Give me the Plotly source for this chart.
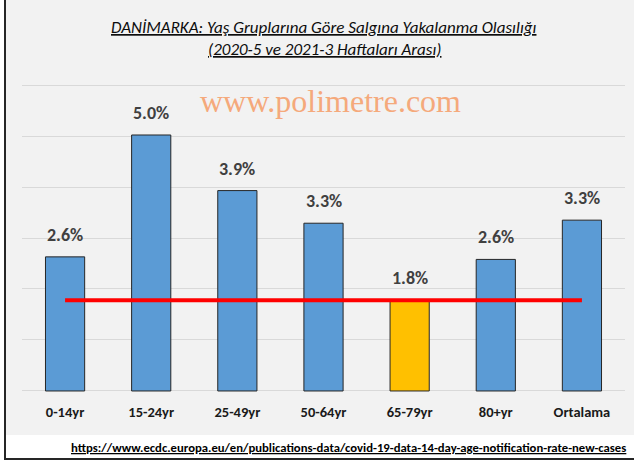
import plotly.graph_objects as go

categories = ["0-14yr", "15-24yr", "25-49yr", "50-64yr", "65-79yr", "80+yr", "Ortalama"]
values = [2.63, 5.02, 3.93, 3.29, 1.78, 2.58, 3.35]
value_labels = ["2.6%", "5.0%", "3.9%", "3.3%", "1.8%", "2.6%", "3.3%"]
ref_line = [1.78, 1.78, 1.78, 1.78, 1.78, 1.78, 1.78]
bar_colors = ["#5B9BD5", "#5B9BD5", "#5B9BD5", "#5B9BD5", "#FFC000", "#5B9BD5", "#5B9BD5"]

W, H = 634, 464
ML, MR, MT, MB = 22, 9, 84, 72
PW, PH = W - ML - MR, H - MT - MB

def px(x):
    return (x - ML) / PW

def py(y):
    return (H - MB - y) / PH

FONT = "Carlito, 'Liberation Sans Narrow', 'DejaVu Sans Condensed', 'Open Sans', sans-serif"

fig = go.Figure()
fig.add_trace(go.Bar(
    x=categories, y=values,
    marker=dict(color=bar_colors, line=dict(color="#262626", width=1)),
    width=0.455, hoverinfo="skip",
))
fig.add_trace(go.Scatter(
    x=categories, y=ref_line, mode="lines",
    line=dict(color="#FF0000", width=4), hoverinfo="skip",
))

annotations = []
for c, v, t in zip(categories, values, value_labels):
    annotations.append(dict(x=c, y=v, text="<b>" + t + "</b>", showarrow=False,
                            yanchor="bottom", yshift=9,
                            font=dict(family=FONT, size=18, color="#404040")))

annotations.append(dict(xref="paper", yref="paper", x=px(324), y=py(28),
                        text="<i><u>DANİMARKA: Yaş Gruplarına Göre Salgına Yakalanma Olasılığı</u></i>",
                        showarrow=False, xanchor="center", yanchor="middle",
                        font=dict(family=FONT, size=17, color="#0D0D0D")))
annotations.append(dict(xref="paper", yref="paper", x=px(324), y=py(50),
                        text="<i><u>(2020-5 ve 2021-3 Haftaları Arası)</u></i>",
                        showarrow=False, xanchor="center", yanchor="middle",
                        font=dict(family=FONT, size=17, color="#0D0D0D")))
annotations.append(dict(xref="paper", yref="paper", x=px(330), y=py(101),
                        text="www.polimetre.com",
                        showarrow=False, xanchor="center", yanchor="middle",
                        font=dict(family="'Liberation Serif', 'Times New Roman', serif", size=32, color="#F5A97B")))
annotations.append(dict(xref="paper", yref="paper", x=px(628), y=py(447),
                        text="<b><u>https://www.ecdc.europa.eu/en/publications-data/covid-19-data-14-day-age-notification-rate-new-cases</u></b>",
                        showarrow=False, xanchor="right", yanchor="middle",
                        font=dict(family=FONT, size=12.7, color="#000000")))

shapes = [
    dict(type="rect", xref="paper", yref="paper", x0=px(6), x1=px(640), y0=py(-5), y1=py(435),
         fillcolor="#F2F2F2", line=dict(width=0), layer="below"),
    dict(type="rect", xref="paper", yref="paper", x0=px(5), x1=px(642), y0=py(-5), y1=py(459),
         fillcolor="rgba(0,0,0,0)", line=dict(color="#262626", width=2), layer="above"),
]

fig.update_layout(
    width=W, height=H,
    margin=dict(l=ML, r=MR, t=MT, b=MB),
    paper_bgcolor="#FFFFFF", plot_bgcolor="rgba(0,0,0,0)",
    showlegend=False, bargap=0.545,
    annotations=annotations, shapes=shapes,
    xaxis=dict(showgrid=False, showline=False, zeroline=False, ticks="",
               tickfont=dict(family=FONT, size=14.5, color="#1A1A1A"),
               ticklabelstandoff=9, fixedrange=True),
    yaxis=dict(range=[-0.02, 6.02], dtick=1, showgrid=True, gridcolor="#D9D9D9", gridwidth=1,
               zeroline=True, zerolinecolor="#D9D9D9", zerolinewidth=1,
               showticklabels=False, fixedrange=True),
)
fig.update_xaxes(tickprefix="<b>", ticksuffix="</b>")

fig.write_html("out.html", config={"displayModeBar": False},
               post_script="document.body.style.margin='0px';document.body.style.overflow='hidden';")
